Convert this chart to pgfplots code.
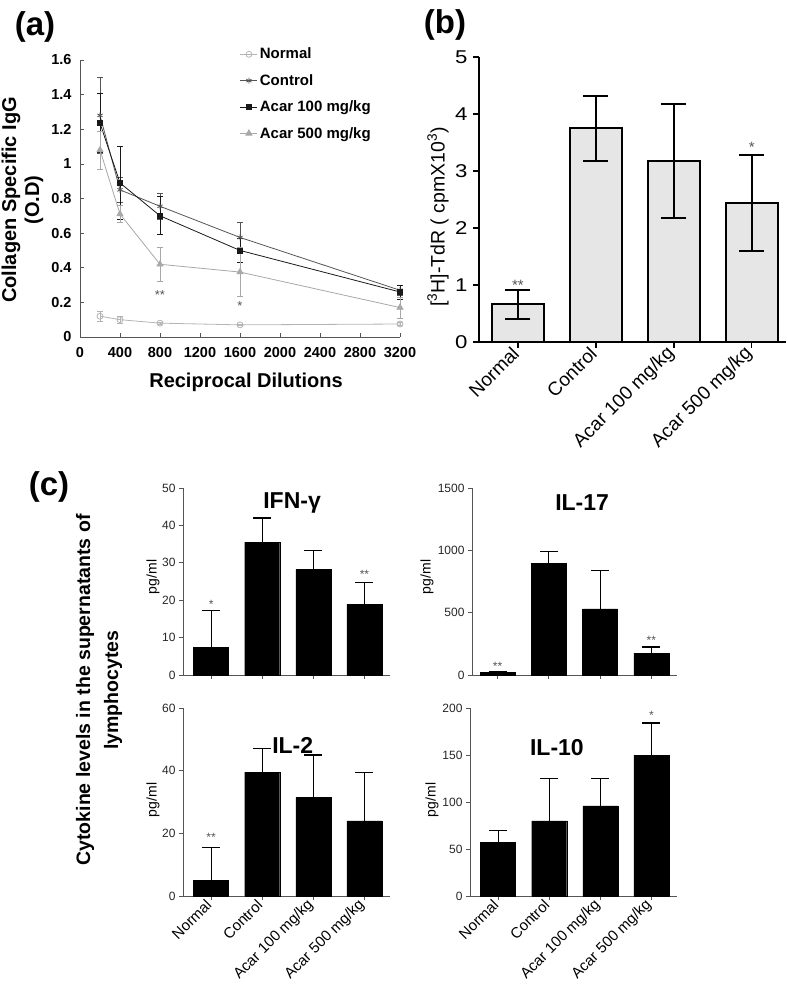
\documentclass[border=0pt]{standalone}
\usepackage{fontspec}
\setmainfont{Liberation Sans}
\usepackage{pgfplots}
\pgfplotsset{compat=1.18}
\definecolor{lgray}{HTML}{B4B4B4}
\definecolor{dgray}{HTML}{555555}
\definecolor{mgray}{HTML}{A8A8A8}
\definecolor{barfill}{HTML}{E6E6E6}
\pgfplotsset{
  cstyle/.style={scale only axis, anchor=south west, width=207pt, height=187pt,
    ybar, bar width=35pt, axis lines*=left,
    axis line style={dgray,line width=0.9pt},
    tick align=outside, major tick length=4pt, tick style={dgray,line width=0.9pt},
    xmin=-0.55, xmax=3.5, ymin=0, xtick={0,1,2,3},
    /pgf/number format/assume math mode=true,
    /pgf/number format/1000 sep={},
    yticklabel style={font=\fontsize{12}{12}\selectfont, text=black!85},
    xticklabel style={rotate=45, anchor=east, font=\fontsize{15}{15}\selectfont},
    clip=false},
  cbar/.style={fill=black, draw=black, error bars/.cd, y dir=plus, y explicit,
    error bar style={line width=1.2pt, black},
    error mark options={rotate=90, black, line width=1.2pt, mark size=9pt}},
}
\begin{document}
\begin{tikzpicture}[x=1pt,y=1pt]
\useasboundingbox (0,0) rectangle (787,993);

% ---------------- panel (a)
\begin{axis}[
  at={(80pt,656pt)}, anchor=south west, scale only axis,
  width=320pt, height=277pt,
  xmin=0, xmax=3200, ymin=0, ymax=1.6,
  axis lines*=left, axis line style={dgray, line width=0.7pt},
  tick align=inside, major tick length=4pt, tick style={dgray, line width=0.7pt},
  xtick={0,400,800,1200,1600,2000,2400,2800,3200},
  ytick={0,0.2,0.4,0.6,0.8,1,1.2,1.4,1.6},
  /pgf/number format/assume math mode=true,
  /pgf/number format/1000 sep={},
  tick label style={font=\fontsize{14.5}{14.5}\selectfont\bfseries},
  xticklabel style={yshift=-7pt},
  yticklabel style={xshift=-5pt},
  clip=false,
  legend style={draw=none, fill=none, at={(0.49,1.058)}, anchor=north west,
    font=\fontsize{15}{15}\selectfont\bfseries, row sep=10pt},
  legend cell align=left,
]
\addplot[color=lgray, line width=0.8pt, mark=o, mark size=3pt, mark options={fill=white},
  error bars/.cd, y dir=both, y explicit, error bar style={line width=0.7pt},
  error mark options={rotate=90, line width=0.7pt, mark size=3pt}]
  coordinates {(200,0.12) +- (0,0.03) (400,0.10) +- (0,0.02) (800,0.08) +- (0,0.005) (1600,0.07) +- (0,0.005) (3200,0.075) +- (0,0.01)};
\addlegendentry{Normal}
\addplot[color=dgray, line width=0.8pt, mark=asterisk, mark size=3pt,
  error bars/.cd, y dir=both, y explicit, error bar style={line width=0.7pt},
  error mark options={rotate=90, line width=0.7pt, mark size=3pt}]
  coordinates {(200,1.28) +- (0,0.22) (400,0.85) +- (0,0.07) (800,0.755) +- (0,0.075) (1600,0.575) +- (0,0.085) (3200,0.27) +- (0,0.03)};
\addlegendentry{Control}
\addplot[color=black!90, line width=0.8pt, mark=square*, mark size=2.5pt,
  error bars/.cd, y dir=both, y explicit, error bar style={line width=0.7pt},
  error mark options={rotate=90, line width=0.7pt, mark size=3pt}]
  coordinates {(200,1.235) +- (0,0.17) (400,0.89) +- (0,0.21) (800,0.70) +- (0,0.11) (1600,0.50) +- (0,0.07) (3200,0.26) +- (0,0.04)};
\addlegendentry{Acar 100 mg/kg}
\addplot[color=mgray, line width=0.8pt, mark=triangle*, mark size=3.5pt,
  error bars/.cd, y dir=both, y explicit, error bar style={line width=0.7pt},
  error mark options={rotate=90, line width=0.7pt, mark size=3pt}]
  coordinates {(200,1.08) +- (0,0.11) (400,0.71) +- (0,0.05) (800,0.42) +- (0,0.10) (1600,0.375) +- (0,0.14) (3200,0.17) +- (0,0.06)};
\addlegendentry{Acar 500 mg/kg}
\node[text=dgray, font=\fontsize{13}{13}\selectfont] at (axis cs:800,0.24) {**};
\node[text=dgray, font=\fontsize{13}{13}\selectfont] at (axis cs:1600,0.18) {*};
\end{axis}

% ---------------- panel (b)
\begin{axis}[
  at={(479pt,651pt)}, anchor=south west, scale only axis,
  width=307pt, height=285pt,
  xmin=-0.5, xmax=3.44, ymin=0, ymax=5,
  ybar, bar width=52pt,
  axis lines*=left, axis line style={black, line width=1.5pt},
  tick align=outside, major tick length=6pt, tick style={black, line width=1.5pt},
  xtick={0,1,2,3}, xticklabels={Normal,Control,Acar 100 mg/kg,Acar 500 mg/kg},
  xticklabel style={rotate=45, anchor=east, font=\fontsize{19}{19}\selectfont},
  ytick={0,1,2,3,4,5},
  /pgf/number format/assume math mode=true,
  yticklabel style={font=\fontsize{18.5}{19}\selectfont, xscale=1.2, xshift=-1pt},
  clip=false,
]
\addplot[fill=barfill, draw=black, line width=1.8pt,
  error bars/.cd, y dir=both, y explicit, error bar style={line width=1.8pt, black},
  error mark options={rotate=90, black, line width=1.8pt, mark size=12.5pt}]
  coordinates {(0,0.66) +- (0,0.255) (1,3.75) +- (0,0.57) (2,3.17) +- (0,1.0) (3,2.44) +- (0,0.845)};
\node[text=dgray, font=\fontsize{15}{15}\selectfont] at (axis cs:0,1.0) {**};
\node[text=dgray, font=\fontsize{15}{15}\selectfont] at (axis cs:3,3.42) {*};
\end{axis}

% ---------------- panel (c) IFN-gamma
\begin{axis}[cstyle, at={(183pt,318pt)}, ymax=50, ytick={0,10,20,30,40,50}, xticklabels={}]
\addplot[cbar] coordinates {(0,7.3) +- (0,9.9) (1,35.5) +- (0,6.5) (2,28.2) +- (0,5.1) (3,18.9) +- (0,5.9)};
\node[font=\fontsize{23}{23}\selectfont\bfseries] at (rel axis cs:0.527,0.92) {IFN-γ};
\node[text=dgray, font=\fontsize{12}{12}\selectfont] at (axis cs:0,19) {*};
\node[text=dgray, font=\fontsize{12}{12}\selectfont] at (axis cs:3,26.8) {**};
\end{axis}

% ---------------- panel (c) IL-17
\begin{axis}[cstyle, at={(472pt,318pt)}, width=205pt, xmin=-0.5, ymax=1500, ytick={0,500,1000,1500}, xticklabels={}]
\addplot[cbar] coordinates {(0,20) +- (0,10) (1,895) +- (0,95) (2,530) +- (0,305) (3,175) +- (0,50)};
\node[font=\fontsize{23}{23}\selectfont\bfseries] at (rel axis cs:0.537,0.92) {IL-17};
\node[text=dgray, font=\fontsize{12}{12}\selectfont] at (axis cs:0,70) {**};
\node[text=dgray, font=\fontsize{12}{12}\selectfont] at (axis cs:3,280) {**};
\end{axis}

% ---------------- panel (c) IL-2
\begin{axis}[cstyle, at={(183pt,97pt)}, height=188pt, ymax=60, ytick={0,20,40,60},
  xticklabels={Normal,Control,Acar 100 mg/kg,Acar 500 mg/kg}]
\addplot[cbar] coordinates {(0,5) +- (0,10.5) (1,39.5) +- (0,7.5) (2,31.5) +- (0,13.5) (3,24) +- (0,15.3)};
\node[font=\fontsize{23}{23}\selectfont\bfseries] at (rel axis cs:0.53,0.80) {IL-2};
\node[text=dgray, font=\fontsize{12}{12}\selectfont] at (axis cs:0,18.7) {**};
\end{axis}

% ---------------- panel (c) IL-10
\begin{axis}[cstyle, at={(470pt,97pt)}, height=188pt, ymax=200, ytick={0,50,100,150,200},
  xticklabels={Normal,Control,Acar 100 mg/kg,Acar 500 mg/kg}]
\addplot[cbar] coordinates {(0,57) +- (0,13) (1,80) +- (0,45) (2,96) +- (0,29) (3,150) +- (0,34)};
\node[font=\fontsize{23}{23}\selectfont\bfseries] at (rel axis cs:0.42,0.79) {IL-10};
\node[text=dgray, font=\fontsize{12}{12}\selectfont] at (axis cs:3,192) {*};
\end{axis}

% ---------------- labels
\node[font=\fontsize{33}{33}\selectfont\bfseries] at (35,966) {(a)};
\node[font=\fontsize{33}{33}\selectfont\bfseries] at (445,968) {(b)};
\node[font=\fontsize{33}{33}\selectfont\bfseries] at (49,506) {(c)};
\node[rotate=90, align=center, font=\fontsize{20}{23}\selectfont\bfseries] at (22.5,793) {Collagen Specific IgG\\(O.D)};
\node[font=\fontsize{20}{20}\selectfont\bfseries] at (246,611) {Reciprocal Dilutions};
\node[rotate=90, font=\fontsize{19.5}{20}\selectfont] at (438,776) {[\textsuperscript{3}H]-TdR ( cpmX10\textsuperscript{3})};
\node[rotate=90, font=\fontsize{14}{14}\selectfont] at (153,416) {pg/ml};
\node[rotate=90, font=\fontsize{14}{14}\selectfont] at (427,416) {pg/ml};
\node[rotate=90, font=\fontsize{14}{14}\selectfont] at (153,193) {pg/ml};
\node[rotate=90, font=\fontsize{14}{14}\selectfont] at (432,193) {pg/ml};
\node[rotate=90, align=center, font=\fontsize{19.5}{28}\selectfont\bfseries] at (99,303) {Cytokine levels in the supernatants of\\lymphocytes};
\end{tikzpicture}
\end{document}
